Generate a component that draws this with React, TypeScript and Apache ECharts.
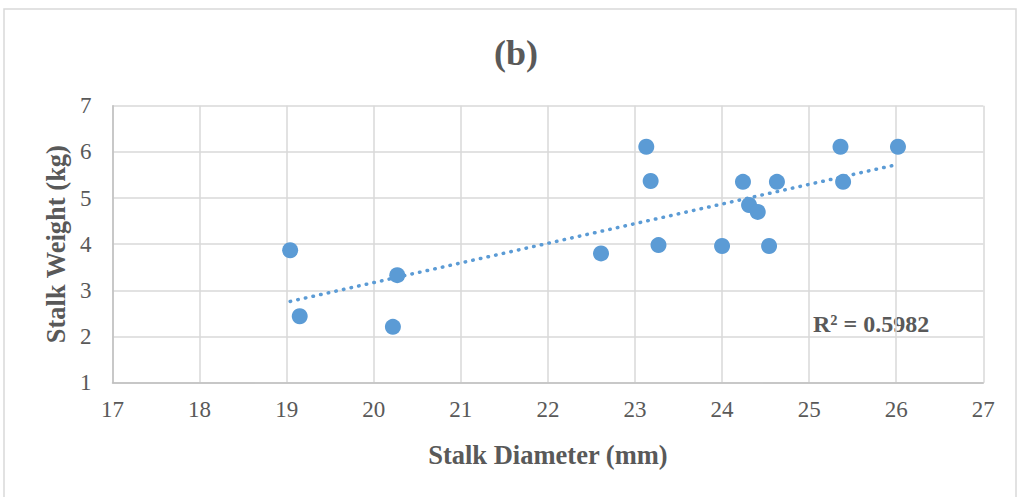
import React, { useEffect, useRef } from "react";
import * as echarts from "echarts";

const diameter = [19.04, 19.15, 20.22, 20.27, 22.61, 23.13, 23.18, 23.27, 24.0, 24.24, 24.31, 24.41, 24.54, 24.63, 25.36, 25.39, 26.02];
const weight = [3.87, 2.44, 2.21, 3.33, 3.8, 6.11, 5.37, 3.98, 3.96, 5.35, 4.85, 4.7, 3.96, 5.35, 6.11, 5.35, 6.11];
const trendX = [19.04, 26.02];
const trendY = [2.76, 5.73];
const titleText = "(b)";
const xTitle = "Stalk Diameter (mm)";
const yTitle = "Stalk Weight (kg)";
const r2Text = "R² = 0.5982";

export default function App() {
  const ref = useRef<HTMLDivElement>(null);
  useEffect(() => {
    document.body.style.margin = "0";
    const chart = echarts.init(ref.current!, null, { renderer: "svg" });
    const font = "'Liberation Serif', 'Times New Roman', serif";
    chart.setOption({
      animation: false,
      backgroundColor: "#ffffff",
      textStyle: { fontFamily: font },
      title: {
        text: titleText,
        left: 494,
        top: 35,
        padding: 0,
        textStyle: { fontFamily: font, fontSize: 36, fontWeight: "bold", color: "#595959" },
      },
      grid: { left: 112.5, right: 33.7, top: 105.7, bottom: 114.3 },
      xAxis: {
        type: "value",
        min: 17,
        max: 27,
        interval: 1,
        name: xTitle,
        nameLocation: "middle",
        nameGap: 59,
        nameTextStyle: { fontFamily: font, fontSize: 26.5, fontWeight: "bold", color: "#595959" },
        axisLine: { show: true, lineStyle: { color: "#bfbfbf", width: 1.5 } },
        axisTick: { show: false },
        axisLabel: { fontFamily: font, fontSize: 23, color: "#595959", margin: 15 },
        splitLine: { show: true, lineStyle: { color: "#d9d9d9", width: 1.5 } },
      },
      yAxis: {
        type: "value",
        min: 1,
        max: 7,
        interval: 1,
        name: yTitle,
        nameLocation: "middle",
        nameGap: 40,
        nameTextStyle: { fontFamily: font, fontSize: 26.5, fontWeight: "bold", color: "#595959" },
        axisLine: { show: true, lineStyle: { color: "#bfbfbf", width: 1.5 } },
        axisTick: { show: false },
        axisLabel: { fontFamily: font, fontSize: 23, color: "#595959", margin: 21 },
        splitLine: { show: true, lineStyle: { color: "#d9d9d9", width: 1.5 } },
      },
      graphic: [
        {
          type: "rect",
          shape: { x: 4, y: 9, width: 1012, height: 500 },
          style: { fill: "none", stroke: "#d9d9d9", lineWidth: 1.5 },
          silent: true,
        },
        {
          type: "text",
          left: 813,
          top: 312,
          style: { text: r2Text, fontFamily: font, fontSize: 24, fontWeight: "bold", fill: "#595959" },
        },
      ],
      series: [
        {
          type: "line",
          data: trendX.map((x, i) => [x, trendY[i]]),
          showSymbol: false,
          symbol: "none",
          lineStyle: { color: "#5b9bd5", width: 3.5, type: [0.5, 7.3], cap: "round" },
          z: 3,
        },
        {
          type: "scatter",
          data: diameter.map((x, i) => [x, weight[i]]),
          symbolSize: 16,
          itemStyle: { color: "#5b9bd5", opacity: 1 },
          z: 4,
        },
      ],
    });
    return () => chart.dispose();
  }, []);
  return <div ref={ref} style={{ width: 1017, height: 497 }} />;
}
